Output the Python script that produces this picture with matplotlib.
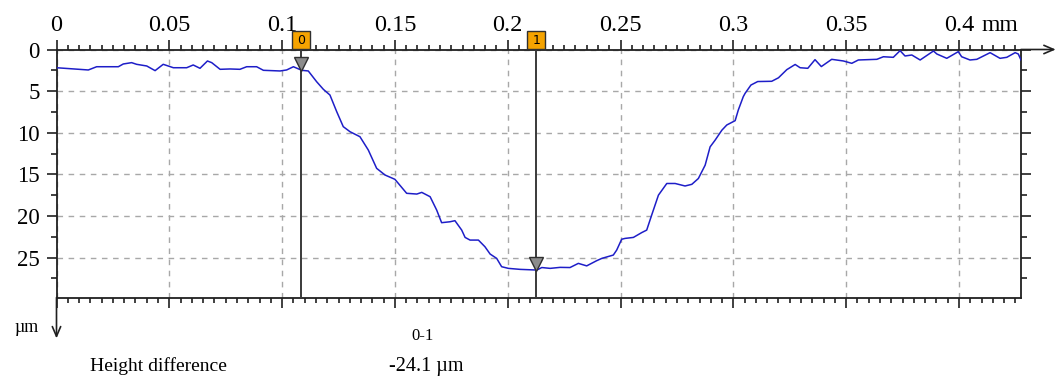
import numpy as np
import matplotlib
matplotlib.use("Agg")
import matplotlib.pyplot as plt
from matplotlib.transforms import blended_transform_factory, ScaledTranslation

plt.rcParams['font.family'] = ['Liberation Serif', 'DejaVu Serif']

# profile: position (mm) and depth (um, positive downwards)
x_mm = [0.0000, 0.0141, 0.0178, 0.0222, 0.0274, 0.0296, 0.0333, 0.0355, 0.0400, 0.0437,
        0.0473, 0.0518, 0.0577, 0.0606, 0.0636, 0.0669, 0.0688, 0.0725, 0.0769, 0.0813,
        0.0843, 0.0887, 0.0917, 0.0991, 0.1020, 0.1050, 0.1087, 0.1116, 0.1153, 0.1183,
        0.1212, 0.1242, 0.1271, 0.1301, 0.1345, 0.1382, 0.1419, 0.1456, 0.1500, 0.1552,
        0.1597, 0.1619, 0.1656, 0.1685, 0.1707, 0.1744, 0.1766, 0.1796, 0.1811, 0.1833,
        0.1870, 0.1899, 0.1922, 0.1951, 0.1973, 0.2003, 0.2055, 0.2129, 0.2151, 0.2188,
        0.2232, 0.2276, 0.2313, 0.2350, 0.2394, 0.2417, 0.2468, 0.2483, 0.2505, 0.2520,
        0.2557, 0.2594, 0.2616, 0.2638, 0.2668, 0.2705, 0.2742, 0.2786, 0.2816, 0.2845,
        0.2875, 0.2897, 0.2919, 0.2949, 0.2971, 0.3008, 0.3022, 0.3044, 0.3052, 0.3078,
        0.3108, 0.3170, 0.3200, 0.3237, 0.3274, 0.3296, 0.3330, 0.3362, 0.3390, 0.3436,
        0.3488, 0.3525, 0.3554, 0.3636, 0.3665, 0.3709, 0.3739, 0.3761, 0.3791, 0.3828,
        0.3887, 0.3902, 0.3946, 0.3997, 0.4012, 0.4049, 0.4079, 0.4138, 0.4182, 0.4212,
        0.4249, 0.4263, 0.4275]
depth_um = [2.19, 2.46, 2.07, 2.07, 2.07, 1.74, 1.58, 1.78, 1.98, 2.54,
            1.78, 2.19, 2.19, 1.86, 2.26, 1.38, 1.58, 2.38, 2.34, 2.38,
            2.07, 2.07, 2.50, 2.58, 2.46, 2.07, 2.50, 2.58, 3.87, 4.79,
            5.47, 7.47, 9.27, 9.88, 10.48, 12.08, 14.28, 15.08, 15.60, 17.28,
            17.37, 17.17, 17.69, 19.29, 20.81, 20.70, 20.57, 21.70, 22.58, 22.90,
            22.90, 23.70, 24.58, 25.10, 26.10, 26.30, 26.42, 26.50, 26.20, 26.30,
            26.18, 26.20, 25.70, 26.00, 25.38, 25.10, 24.70, 24.10, 22.80, 22.70,
            22.58, 22.00, 21.70, 19.90, 17.50, 16.10, 16.10, 16.40, 16.20, 15.50,
            13.90, 11.70, 10.90, 9.70, 9.07, 8.55, 7.27, 5.67, 5.27, 4.27,
            3.85, 3.82, 3.40, 2.42, 1.80, 2.19, 2.26, 1.22, 2.05, 1.18,
            1.38, 1.66, 1.26, 1.18, 0.87, 0.94, 0.14, 0.78, 0.66, 1.26,
            0.18, 0.54, 1.06, 0.26, 0.87, 1.26, 1.18, 0.38, 1.06, 0.94,
            0.38, 0.54, 1.26]

cursor_x = [0.1084, 0.2126]
cursor_names = ['0', '1']

x_ticks = [0, 0.05, 0.1, 0.15, 0.2, 0.25, 0.3, 0.35, 0.4]
x_tick_labels = ['0', '0.05', '0.1', '0.15', '0.2', '0.25', '0.3', '0.35', '0.4']
y_ticks = [0, 5, 10, 15, 20, 25]
y_tick_labels = ['0', '5', '10', '15', '20', '25']

W, H = 1059, 381
fig = plt.figure(figsize=(W / 100, H / 100), dpi=100)
ax = fig.add_axes([56.5 / W, (H - 297.5) / H, (1021 - 56.5) / W, (297.5 - 49.5) / H])

ax.plot(x_mm, depth_um, color='#1e1ec8', lw=1.1, zorder=3)
ax.set_xlim(0, 0.4275)
ax.set_ylim(29.8, 0)

ax.set_xticks(x_ticks)
ax.set_xticklabels(x_tick_labels)
ax.set_xticks(np.arange(0, 0.428, 0.005), minor=True)
ax.set_yticks(y_ticks)
ax.set_yticklabels(y_tick_labels)
ax.set_yticks(np.arange(0, 29.8, 2.5), minor=True)

ax.tick_params(axis='x', which='both', direction='out', top=True, bottom=True,
               labeltop=True, labelbottom=False, width=1.2, color='#202020')
ax.tick_params(axis='x', which='major', length=7, pad=3, labelsize=17.5)
ax.tick_params(axis='x', which='minor', length=3.5)
ax.tick_params(axis='y', which='both', direction='out', left=True, right=True,
               labelleft=True, labelright=False, width=1.2, color='#202020')
ax.tick_params(axis='y', which='major', length=7, pad=5, labelsize=16.5)
ax.tick_params(axis='y', which='minor', length=4)

ax.grid(True, which='major', ls=(0, (4, 4)), color='#a8a8a8', lw=1.0)
for s in ax.spines.values():
    s.set_color('#202020')
    s.set_linewidth(1.3)

# axis arrows
ax.annotate('', xy=(1.036, 1), xytext=(1, 1), xycoords='axes fraction',
            arrowprops=dict(arrowstyle='->,head_length=0.7,head_width=0.3', color='#202020',
                            lw=1.2, shrinkA=0, shrinkB=0), annotation_clip=False)
ax.annotate('', xy=(0, -0.165), xytext=(0, 0), xycoords='axes fraction',
            arrowprops=dict(arrowstyle='->,head_length=0.7,head_width=0.3', color='#202020',
                            lw=1.2, shrinkA=0, shrinkB=0), annotation_clip=False)

ax.text(0.4098, 1.0, 'mm', transform=blended_transform_factory(ax.transData, ax.transAxes)
        + ScaledTranslation(0, 10 / 72, fig.dpi_scale_trans),
        ha='left', va='bottom', fontsize=17, clip_on=False)

# cursors
top_tr = blended_transform_factory(ax.transData, ax.transAxes) + \
    ScaledTranslation(0, 9.5 / 100, fig.dpi_scale_trans)
tri_tr = ax.transData + ScaledTranslation(0, 6.5 / 100, fig.dpi_scale_trans)
for cx, name in zip(cursor_x, cursor_names):
    cy = np.interp(cx, x_mm, depth_um)
    ax.axvline(cx, color='#3a3a3a', lw=1.4, zorder=4)
    ax.plot([cx], [cy], marker='v', ms=10, mfc='#8c8c8c', mec='#303030', mew=1,
            transform=tri_tr, zorder=5, clip_on=False)
    ax.plot([cx], [1], marker='s', ms=13, mfc='#f5a300', mec='#303030', mew=1,
            transform=top_tr, zorder=6, clip_on=False)
    ax.text(cx, 1, name, transform=top_tr, ha='center', va='center', fontsize=9,
            family='DejaVu Sans', zorder=7, clip_on=False)

# result table under the chart
fig.text(14 / W, 1 - 327 / H, 'µm', ha='left', va='center', fontsize=13)
fig.text(422 / W, 1 - 336 / H, '0-1', ha='center', va='center', fontsize=12)
fig.text(90 / W, 1 - 366 / H, 'Height difference', ha='left', va='center', fontsize=14)
fig.text(426 / W, 1 - 366 / H, '-24.1 µm', ha='center', va='center', fontsize=14.5)

fig.savefig('out.png', dpi=100)
